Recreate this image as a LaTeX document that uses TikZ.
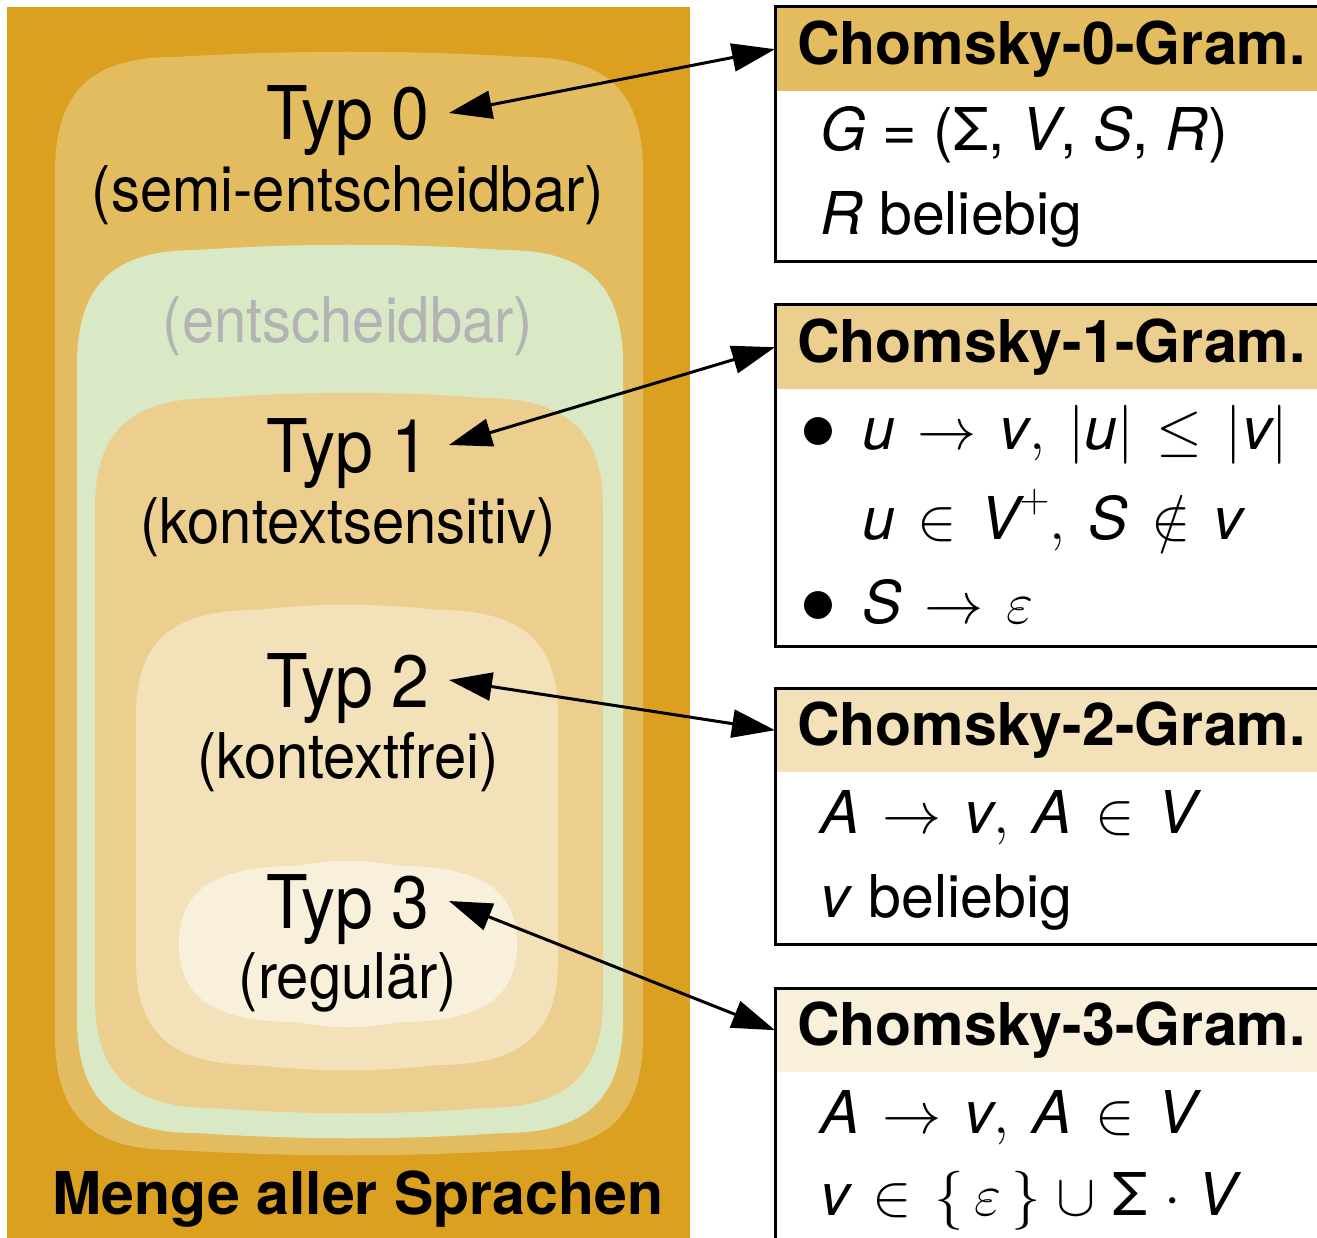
\documentclass[tikz,border=0pt]{standalone}
\usepackage{fix-cm}
\usepackage{amsmath}
\usepackage{fontspec}
\setmainfont{TeX Gyre Heros}
\newfontfamily\narrowfont[FakeStretch=0.92]{TeX Gyre Heros}
\usetikzlibrary{arrows.meta, positioning}
\thickmuskip=7mu plus 3mu
\medmuskip=5mu plus 2mu

\definecolor{outergold}{HTML}{DCA020}
\definecolor{typzero}{HTML}{E4BC60}
\definecolor{decgreen}{HTML}{D9E9C6}
\definecolor{typone}{HTML}{ECCF8E}
\definecolor{typtwo}{HTML}{F3E1B9}
\definecolor{typthree}{HTML}{F9F0DC}
\definecolor{decgray}{HTML}{B3B3B3}

% one language class: colour, left, top, right, bottom, corner height
\newcommand{\langset}[6]{%
  \pgfmathsetmacro{\cy}{5+0.3*(#6-5)}%
  \pgfmathsetmacro{\tx}{(#4-#2-240)/3}%
  \fill[#1] (#2,#3+#6)
    .. controls (#2,#3+\cy) and (#2+36,#3+5) .. (#2+120,#3+5)
    .. controls (#2+120+\tx,#3-2) and (#4-120-\tx,#3-2) .. (#4-120,#3+5)
    .. controls (#4-36,#3+5) and (#4,#3+\cy) .. (#4,#3+#6)
    -- (#4,#5-#6)
    .. controls (#4,#5-\cy) and (#4-36,#5-5) .. (#4-120,#5-5)
    .. controls (#4-120-\tx,#5+2) and (#2+120+\tx,#5+2) .. (#2+120,#5-5)
    .. controls (#2+36,#5-5) and (#2,#5-\cy) .. (#2,#5-#6)
    -- cycle;}
\newcommand{\itm}{\makebox[62pt][l]{\fontsize{72}{72}\selectfont$\bullet$}}
\newcommand{\gap}{\mskip 4mu}

\begin{document}
\begin{tikzpicture}[x=1pt, y=-1pt,
    typ/.style={anchor=base, inner xsep=19pt, font=\narrowfont\fontsize{74}{80}\selectfont},
    sub/.style={anchor=base, font=\narrowfont\fontsize{63}{70}\selectfont},
    head/.style={anchor=north west, minimum height=84pt, text width=560pt,
        inner xsep=22pt, align=left, font=\bfseries\fontsize{59}{64}\selectfont},
    prod/.style={anchor=base west, inner sep=0pt, font=\fontsize{59}{64}\selectfont},
    boxline/.style={draw, line width=3pt},
    link/.style={{Triangle[length=43pt,width=28pt]}-{Triangle[length=43pt,width=28pt]},
        line width=3pt}]
    \useasboundingbox (0,0) rectangle (1317,1238);
    \clip (0,0) rectangle (1317,1238);

    % nested language classes
    \fill[outergold] (7,7) rectangle (690,1250);
    \langset{typzero}{55}{52}{643}{1155}{120}
    \langset{decgreen}{77}{245}{623}{1138}{120}
    \langset{typone}{95}{393}{603}{1113}{115}
    \langset{typtwo}{136}{605}{558}{1070}{110}
    \langset{typthree}{179}{861}{517}{1027}{83}

    \node[typ] (typ0) at (348,140) {Typ 0};
    \node[sub] (sub0) at (348,212) {(semi-entscheidbar)};
    \node[sub, text=decgray] (dec) at (348,343) {(entscheidbar)};
    \node[typ] (typ1) at (348,472) {Typ 1};
    \node[sub] (sub1) at (348,543) {(kontextsensitiv)};
    \node[typ] (typ2) at (348,707) {Typ 2};
    \node[sub] (sub2) at (348,778) {(kontextfrei)};
    \node[typ] (typ3) at (348,928) {Typ 3};
    \node[sub] (sub3) at (348,998) {(regulär)};
    \node[anchor=base, font=\bfseries\fontsize{59}{64}\selectfont] (menge) at (358,1214)
        {Menge aller Sprachen};

    % grammar boxes
    \node[head, fill=typzero] (chom0) at (775,7) {Chomsky-0-Gram.};
    \draw[boxline] (chom0.north west) rectangle ++(620,255);
    \node[prod] (g0a) at ([shift={(45,59)}]chom0.south west)
        {\textit{G} = (Σ, \textit{V}, \textit{S}, \textit{R})};
    \node[prod] (g0b) at ([shift={(45,143)}]chom0.south west) {\textit{R} beliebig};

    \node[head, fill=typone] (chom1) at (775,305) {Chomsky-1-Gram.};
    \draw[boxline] (chom1.north west) rectangle ++(620,341);
    \node[prod] (g1a) at ([shift={(25,60)}]chom1.south west)
        {\itm$\textit{u} \rightarrow \textit{v},\gap |\textit{u}| \leq |\textit{v}|$};
    \node[prod] (g1b) at ([shift={(25,150)}]chom1.south west)
        {\hspace*{62pt}$\textit{u} \in \textit{V}^{+},\gap \textit{S} \notin \textit{v}$};
    \node[prod] (g1c) at ([shift={(25,234)}]chom1.south west)
        {\itm$\textit{S} \rightarrow \varepsilon$};

    \node[head, fill=typtwo] (chom2) at (775,688) {Chomsky-2-Gram.};
    \draw[boxline] (chom2.north west) rectangle ++(620,256);
    \node[prod] (g2a) at ([shift={(45,61)}]chom2.south west)
        {$\textit{A} \rightarrow \textit{v},\gap \textit{A} \in \textit{V}$};
    \node[prod] (g2b) at ([shift={(45,145)}]chom2.south west) {\textit{v} beliebig};

    \node[head, fill=typthree] (chom3) at (775,988) {Chomsky-3-Gram.};
    \draw[boxline] (chom3.north west) rectangle ++(620,300);
    \node[prod] (g3a) at ([shift={(45,61)}]chom3.south west)
        {$\textit{A} \rightarrow \textit{v},\gap \textit{A} \in \textit{V}$};
    \node[prod] (g3b) at ([shift={(45,143)}]chom3.south west)
        {$\textit{v} \in \{\,\varepsilon\,\} \cup \text{Σ} \cdot \textit{V}$};

    % links between classes and grammars
    \draw[link] (chom0.west) -- ([yshift=27pt]typ0.base east);
    \draw[link] (chom1.west) -- ([yshift=27pt]typ1.base east);
    \draw[link] (chom2.west) -- ([yshift=27pt]typ2.base east);
    \draw[link] (chom3.west) -- ([yshift=27pt]typ3.base east);
\end{tikzpicture}
\end{document}
